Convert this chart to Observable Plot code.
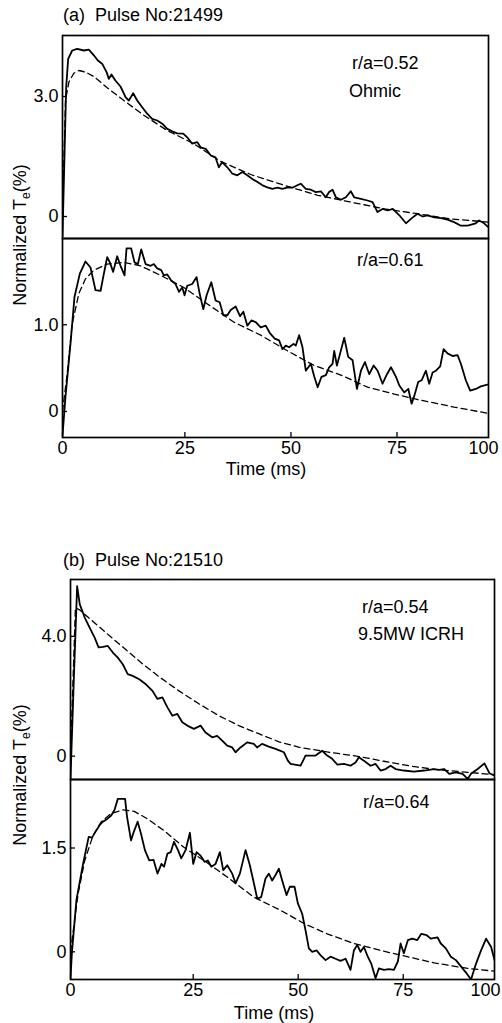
<!DOCTYPE html>
<html><head><meta charset="utf-8">
<script src="https://cdn.jsdelivr.net/npm/d3@7"></script>
<script src="https://cdn.jsdelivr.net/npm/@observablehq/plot@0.6"></script>
<style>
html,body{margin:0;padding:0;background:#fff;}
#root{position:relative;width:502px;height:1023px;overflow:hidden;font-family:"Liberation Sans",Arial,Helvetica,sans-serif;color:#000;background:#fff;}
.t{position:absolute;font-size:18px;line-height:1;white-space:pre;transform:translateY(-50%);}
.c{position:absolute;font-size:18px;line-height:1;white-space:pre;transform:translate(-50%,-50%);}
.yl{position:absolute;font-size:18px;line-height:1;white-space:nowrap;transform:translate(-50%,-50%) rotate(-90deg);}
.yl sub{font-size:12px;vertical-align:-4px;}
</style></head><body><div id="root"></div>
<script>
// ---- data (time in ms, normalized Te in %) ----
const timeTicks = [0, 25, 50, 75, 100];

// (a) Pulse No:21499, r/a=0.52 Ohmic
const aTopMeasured = [[0,-0.5],[0.75,3.23],[1.16,3.94],[1.98,4.15],[3.0,4.19],[4.36,4.15],[5.38,4.17],[6.4,4.03],[7.22,3.9],[8.1,3.82],[9.0,3.61],[9.47,3.44],[10.0,3.55],[10.8,3.4],[11.85,3.25],[12.9,2.98],[13.55,2.9],[14.44,3.08],[15.26,2.9],[16.28,2.73],[17.3,2.57],[18.3,2.44],[19.35,2.4],[20.37,2.32],[21.4,2.19],[22.4,2.13],[23.43,2.08],[24.66,2.07],[25.55,1.98],[26.73,1.82],[27.9,1.86],[28.7,1.73],[29.9,1.69],[31.06,1.53],[32.2,1.48],[33.0,1.23],[33.8,1.36],[35.0,1.23],[36.2,1.07],[37.36,1.03],[38.54,1.11],[39.7,1.03],[40.9,0.94],[42.1,0.86],[43.3,0.78],[44.45,0.73],[45.6,0.69],[46.8,0.72],[48.0,0.69],[49.2,0.73],[50.35,0.72],[51.5,0.78],[52.3,0.82],[53.5,0.69],[54.7,0.67],[55.87,0.61],[57.05,0.63],[58.2,0.48],[59.0,0.61],[59.8,0.67],[60.6,0.48],[61.77,0.42],[62.95,0.48],[64.1,0.63],[64.9,0.48],[66.5,0.44],[68.05,0.4],[69.25,0.36],[70.4,0.11],[71.6,0.19],[72.8,0.15],[74.0,0.19],[75.64,0.03],[77.45,-0.17],[78.8,-0.06],[80.6,0.07],[82.0,0],[83.36,0.03],[85.2,-0.02],[87.0,-0.04],[88.8,-0.08],[90.6,-0.14],[92.45,-0.23],[94.3,-0.23],[96.5,-0.17],[97.45,-0.1],[98.8,-0.17],[100,-0.27]];
const aTopFit = [[0,0],[0.61,2.9],[1.3,3.36],[2.3,3.58],[3.34,3.65],[4.7,3.61],[6.4,3.5],[9.13,3.22],[12.53,2.9],[16.6,2.53],[21.4,2.15],[27.1,1.82],[33.4,1.38],[40.5,1.05],[48.4,0.78],[56.3,0.53],[64.1,0.36],[72.0,0.19],[80.6,0.07],[89.7,-0.06],[100,-0.14]];

// (a) r/a=0.61
const aBottomMeasured = [[0,-0.28],[0.61,0.17],[1.63,0.78],[2.45,1.32],[3.54,1.59],[4.7,1.73],[5.72,1.66],[6.74,1.4],[7.77,1.39],[8.45,1.59],[9.13,1.78],[9.67,1.72],[10.35,1.61],[11.17,1.79],[11.85,1.68],[12.67,1.57],[13.08,1.88],[14.03,1.88],[14.71,1.72],[15.4,1.7],[16.08,1.87],[16.96,1.7],[18.0,1.68],[18.66,1.7],[19.35,1.65],[20.16,1.63],[20.7,1.57],[21.4,1.58],[22.2,1.51],[23.1,1.47],[23.8,1.38],[24.46,1.43],[24.93,1.34],[25.55,1.45],[26.73,1.47],[27.76,1.55],[28.47,1.36],[29.33,1.18],[30.12,1.34],[31.22,1.49],[32.24,1.28],[33.19,1.26],[34.06,1.11],[35.0,1.11],[35.8,1.17],[36.97,1.21],[38.0,1.1],[38.78,1.15],[39.72,0.99],[40.67,1.05],[41.7,1.03],[42.87,0.97],[44.06,0.99],[45.08,0.9],[46.18,0.84],[47.2,0.82],[48.0,0.72],[48.78,0.76],[49.57,0.74],[50.6,0.78],[51.14,0.76],[51.93,0.88],[52.72,0.74],[53.5,0.47],[54.7,0.55],[55.5,0.4],[56.3,0.28],[57.2,0.4],[58.23,0.42],[59.0,0.51],[59.8,0.55],[60.2,0.7],[60.83,0.53],[61.38,0.63],[62.56,0.85],[63.5,0.63],[64.53,0.59],[65.55,0.26],[66.5,0.47],[67.44,0.57],[68.46,0.43],[69.5,0.53],[70.43,0.47],[71.6,0.32],[72.64,0.43],[73.58,0.51],[74.76,0.4],[75.64,0.3],[77.0,0.22],[78.1,0.26],[79.0,0.09],[79.73,0.18],[80.8,0.34],[81.73,0.36],[82.9,0.47],[83.8,0.32],[84.73,0.45],[85.64,0.47],[86.8,0.52],[87.73,0.72],[88.8,0.67],[90.2,0.64],[91.55,0.65],[92.45,0.55],[93.8,0.36],[95.0,0.24],[96.55,0.26],[97.9,0.29],[99.7,0.31]];
const aBottomFit = [[0,0],[0.95,0.43],[1.98,1.01],[3.34,1.36],[4.7,1.53],[6.4,1.63],[9.13,1.7],[12.53,1.72],[15.94,1.68],[20.03,1.57],[24.8,1.43],[30.3,1.24],[36.57,1.03],[42.87,0.88],[49.17,0.7],[55.5,0.53],[61.77,0.42],[68.07,0.28],[74.37,0.2],[81.55,0.13],[90.64,0.05],[99.73,-0.02]];

// (b) Pulse No:21510, r/a=0.54 9.5MW ICRH
const bTopMeasured = [[0,-0.75],[0.67,2.52],[1.35,5.68],[1.89,5.07],[2.9,4.63],[3.9,4.29],[4.92,3.96],[5.73,3.63],[6.6,3.65],[7.6,3.68],[8.63,3.46],[9.64,3.29],[10.65,3.07],[11.66,2.74],[12.67,2.68],[14.0,2.57],[15.36,2.4],[16.7,2.18],[17.72,1.91],[18.73,1.96],[19.75,1.63],[20.76,1.35],[21.77,1.41],[22.78,1.13],[23.79,1.02],[25.16,0.91],[26.75,1.02],[27.94,0.79],[29.52,0.63],[30.71,0.68],[31.9,0.52],[33.1,0.35],[34.28,0.29],[35.07,0.13],[36.27,0.29],[37.85,0.46],[39.45,0.41],[40.2,0.29],[41.4,0.41],[43.0,0.32],[44.6,0.24],[46.6,0.13],[47.54,-0.15],[48.18,-0.26],[50.56,-0.32],[51.75,0.02],[54.13,0.02],[55.72,0.18],[56.9,0.02],[58.1,-0.09],[59.29,-0.28],[60.87,-0.26],[62.46,-0.32],[63.65,-0.21],[64.45,-0.04],[65.64,-0.15],[67.22,-0.32],[68.42,-0.26],[69.6,-0.48],[70.8,-0.43],[72.0,-0.32],[73.18,-0.43],[75.18,-0.48],[77.94,-0.52],[80.7,-0.48],[83.46,-0.43],[84.84,-0.46],[86.2,-0.43],[87.6,-0.59],[89.4,-0.54],[91.27,-0.59],[92.65,-0.76],[93.57,-0.59],[95.4,-0.43],[97.24,-0.24],[98.6,-0.57],[100,-0.65]];
const bTopFit = [[0,0],[1.0,4.96],[1.89,4.88],[4.58,4.5],[7.95,4.02],[11.32,3.55],[14.7,3.08],[18.06,2.65],[22.1,2.18],[26.35,1.75],[31.1,1.35],[35.86,1.02],[40.6,0.75],[45.4,0.48],[50.1,0.3],[56.9,0.14],[64.84,-0.02],[70.4,-0.17],[77.0,-0.33],[83.46,-0.44],[92.65,-0.54],[100,-0.62]];

// (b) r/a=0.64
const bBottomMeasured = [[0,-0.38],[0.3,0],[1.21,0.75],[2.56,1.27],[3.71,1.66],[4.38,1.65],[5.05,1.73],[5.93,1.83],[6.6,1.88],[7.48,1.92],[8.29,1.97],[8.96,2.05],[9.64,2.21],[11.12,2.21],[11.52,1.95],[12.33,1.61],[12.87,1.73],[13.68,1.88],[14.35,1.71],[15.16,1.47],[16.04,1.32],[16.91,1.33],[17.72,1.13],[18.53,1.27],[19.07,1.23],[19.75,1.42],[20.42,1.44],[21.09,1.59],[21.9,1.47],[22.57,1.35],[23.45,1.47],[24.33,1.72],[25.0,1.27],[25.79,1.44],[26.75,1.39],[27.7,1.3],[28.49,1.32],[29.29,1.23],[30.32,1.27],[31.35,1.44],[32.14,1.18],[33.1,1.25],[34.29,1.13],[35.08,0.99],[36.11,1.13],[37.46,1.47],[38.49,1.25],[39.45,0.99],[40.24,0.77],[41.19,0.79],[42.22,1.06],[43.02,1.13],[43.81,1.03],[44.6,1.11],[45.4,1.2],[46.19,1.03],[47.22,0.82],[48.02,0.94],[49.13,0.94],[49.92,0.7],[50.95,0.55],[51.75,0.31],[52.54,0.05],[53.34,0],[54.37,0.02],[55.48,-0.06],[56.51,-0.12],[57.7,-0.07],[58.89,-0.1],[60.08,-0.13],[61.27,-0.1],[62.46,-0.26],[63.26,0.02],[64.05,0.1],[64.84,0],[65.64,0.07],[66.43,-0.05],[67.38,-0.17],[68.42,-0.38],[69.21,-0.24],[70.4,-0.26],[71.59,-0.25],[72.78,-0.26],[73.73,-0.14],[74.37,0.12],[75.18,-0.02],[76.29,0.17],[77.48,0.19],[78.86,0.17],[79.96,0.26],[81.43,0.24],[82.54,0.19],[84.38,0.21],[85.29,0.12],[86.67,0.05],[88.05,-0.07],[89.43,-0.12],[90.81,-0.21],[92.19,-0.3],[93.57,-0.4],[94.95,-0.17],[96.32,0.02],[97.7,0.19],[99.08,0.07],[100,-0.12]];
const bBottomFit = [[0,0],[1.55,0.84],[2.9,1.32],[4.58,1.68],[6.27,1.88],[8.29,2.0],[10.65,2.05],[13.0,2.03],[15.7,1.92],[19.07,1.75],[23.1,1.51],[27.54,1.32],[33.1,1.08],[39.45,0.79],[45.8,0.6],[51.35,0.41],[56.9,0.26],[63.26,0.12],[69.6,0.02],[76.1,-0.07],[83.46,-0.16],[92.65,-0.24],[100,-0.28]];

// tick values
const aTopYTicks = [0, 3.0];
const aBottomYTicks = [0, 1.0];
const bTopYTicks = [0, 4.0];
const bBottomYTicks = [0, 1.5];

// ---- layout ----
const root = document.getElementById("root");
const fmt = d => d === 0 ? "0" : d.toFixed(1);

// the printed time axis is not uniform: tick spacing measured in % of the frame width
const warpA = d3.scaleLinear().domain(timeTicks).range([0, 28.73, 53.63, 78.52, 100]);
const warpB = d3.scaleLinear().domain(timeTicks).range([0, 28.94, 53.7, 78.47, 100]);

function panel({top, height, mt, mb, ml, mr, warp, yDomain, yTicks, measured, fit, showX, lastDx}) {
  const marks = [
    Plot.line(fit, {x: d => d[0], y: d => d[1], stroke: "black", strokeWidth: 1.3, strokeDasharray: "6,4", clip: true}),
    Plot.line(measured, {x: d => d[0], y: d => d[1], stroke: "black", strokeWidth: 1.8, strokeLinejoin: "round", clip: true}),
    Plot.frame({stroke: "black", strokeWidth: 1.7}),
    Plot.axisY(yTicks, {tickSize: -5, tickPadding: 9, tickFormat: fmt, label: null, strokeWidth: 1.3})
  ];
  if (showX) {
    marks.push(Plot.axisX(timeTicks.slice(0, -1), {tickSize: -5, tickPadding: 9, tickFormat: d => String(d), label: null, strokeWidth: 1.3}));
    marks.push(Plot.axisX(timeTicks.slice(-1), {tickSize: 0, tickPadding: 4, dx: lastDx, tickFormat: d => String(d), label: null}));
  }
  const svg = Plot.plot({
    width: 502, height,
    marginTop: mt, marginBottom: mb, marginLeft: ml, marginRight: mr,
    x: {domain: [0, 100], transform: d => warp(d), axis: showX ? undefined : null},
    y: {domain: yDomain},
    style: {fontFamily: '"Liberation Sans", Arial, Helvetica, sans-serif', fontSize: "18px", color: "black", background: "transparent", overflow: "visible"},
    marks
  });
  svg.style.position = "absolute";
  svg.style.left = "0px";
  svg.style.top = top + "px";
  root.append(svg);
}

function text(cls, html, left, top) {
  const d = document.createElement("div");
  d.className = cls;
  d.innerHTML = html;
  d.style.left = left + "px";
  d.style.top = top + "px";
  root.append(d);
}

panel({top: 33, height: 207, mt: 2, mb: 2, ml: 62, mr: 14, warp: warpA, yDomain: [-0.55, 4.525], yTicks: aTopYTicks, measured: aTopMeasured, fit: aTopFit, showX: false});
panel({top: 236, height: 245, mt: 2, mb: 44, ml: 62, mr: 14, warp: warpA, yDomain: [-0.30, 1.995], yTicks: aBottomYTicks, measured: aBottomMeasured, fit: aBottomFit, showX: true, lastDx: -5});
panel({top: 577, height: 204, mt: 2, mb: 2, ml: 70, mr: 8, warp: warpB, yDomain: [-0.78, 5.9], yTicks: bTopYTicks, measured: bTopMeasured, fit: bTopFit, showX: false});
panel({top: 777, height: 246, mt: 2, mb: 44, ml: 70, mr: 8, warp: warpB, yDomain: [-0.40, 2.49], yTicks: bBottomYTicks, measured: bBottomMeasured, fit: bBottomFit, showX: true, lastDx: -9});

text("t", "(a)  Pulse No:21499", 63, 15);
text("t", "(b)  Pulse No:21510", 63, 560);
text("t", "r/a=0.52", 352, 63);
text("t", "Ohmic", 349, 91);
text("t", "r/a=0.61", 357, 260);
text("t", "r/a=0.54", 362, 607);
text("t", "9.5MW ICRH", 358, 634);
text("t", "r/a=0.64", 363, 802);
text("c", "Time (ms)", 266, 469);
text("c", "Time (ms)", 274, 1013);
text("yl", "Normalized T<sub>e</sub>(%)", 21, 235);
text("yl", "Normalized T<sub>e</sub>(%)", 21, 775);
</script></body></html>
